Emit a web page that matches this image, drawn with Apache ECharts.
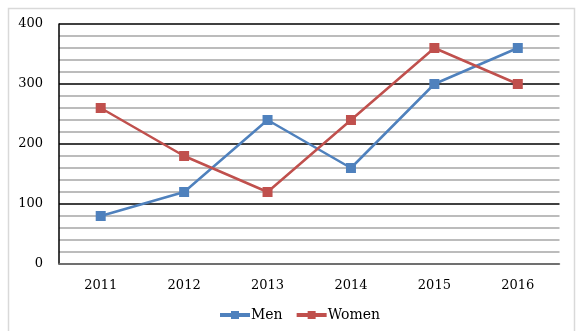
<!DOCTYPE html>
<html><head><meta charset="utf-8">
<script src="https://cdn.jsdelivr.net/npm/echarts@6/dist/echarts.min.js"></script>
<style>html,body{margin:0;padding:0;background:#fff}#c{width:581px;height:331px}</style>
</head><body><div id="c"></div>
<script>
var categories = ['2011','2012','2013','2014','2015','2016'];
var menValues = [80,120,240,160,300,360];
var womenValues = [260,180,120,240,360,300];
var yTicks = [0,100,200,300,400];

var font = 'DejaVu Serif';
var chart = echarts.init(document.getElementById('c'), null, {renderer:'canvas'});
chart.setOption({
  animation:false,
  backgroundColor:'#fff',
  graphic:[{type:'rect',shape:{x:8.5,y:8.5,width:566,height:340},style:{fill:'none',stroke:'#d9d9d9',lineWidth:1.5},silent:true}],
  grid:{left:59,right:21.5,top:24,bottom:67},
  legend:{bottom:4,left:213,itemWidth:30,itemHeight:10,itemGap:12,
    lineStyle:{width:4},
    textStyle:{fontFamily:font,fontSize:14,color:'#000',padding:[0,0,0,-4]},
    data:['Men','Women']},
  xAxis:{type:'category',data:categories,boundaryGap:true,
    axisLine:{lineStyle:{color:'#808080',width:1.5}},axisTick:{show:false},
    axisLabel:{fontFamily:font,fontSize:13,color:'#000',margin:15}},
  yAxis:{type:'value',min:0,max:400,interval:100,
    axisLine:{show:true,lineStyle:{color:'#000',width:1.5}},axisTick:{show:false},
    axisLabel:{fontFamily:font,fontSize:13,color:'#000',margin:16,
      formatter:function(v){return yTicks.indexOf(v)>=0?String(v):'';}},
    splitLine:{lineStyle:{color:'#000',width:1.5}},
    minorTick:{show:false,splitNumber:5},
    minorSplitLine:{show:true,lineStyle:{color:'#a6a6a6',width:1.5}}},
  series:[
    {name:'Men',type:'line',data:menValues,symbol:'rect',symbolSize:10,
     itemStyle:{color:'#4f81bd'},lineStyle:{color:'#4f81bd',width:2.5}},
    {name:'Women',type:'line',data:womenValues,symbol:'rect',symbolSize:10,
     itemStyle:{color:'#c0504d'},lineStyle:{color:'#c0504d',width:2.5}}
  ]
});
</script></body></html>
